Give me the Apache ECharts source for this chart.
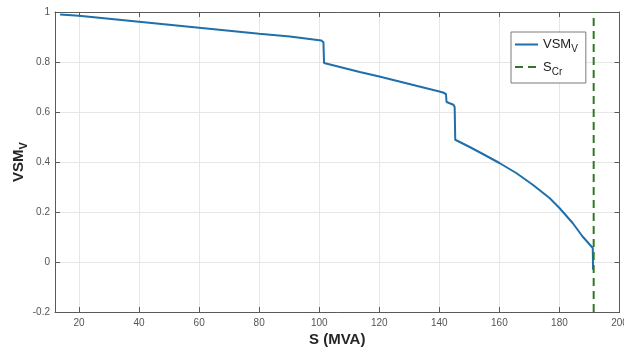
<!DOCTYPE html>
<html>
<head>
<meta charset="utf-8">
<script src="https://cdn.jsdelivr.net/npm/echarts@6/dist/echarts.min.js"></script>
<style>
  html, body { margin: 0; padding: 0; background: #fff; }
  #chart { width: 624px; height: 349px; }
</style>
</head>
<body>
<div id="chart"></div>
<script>
// Voltage stability margin versus apparent power
const sValues = [13.7, 20, 40, 60, 80, 90.2, 100.7, 101.4, 101.6, 113.5, 120, 130, 140, 141.2, 142.2, 142.4, 144.7, 145.1, 145.3,
                 150.1, 154.5, 160, 165.6, 171.1, 176.7, 180, 184.4, 187.7, 191.1, 191.2];
const vsmValues = [0.99, 0.985, 0.961, 0.937, 0.913, 0.902, 0.886, 0.879, 0.796, 0.76, 0.742, 0.712, 0.682, 0.678, 0.672, 0.640, 0.629, 0.620, 0.489,
                   0.460, 0.432, 0.396, 0.356, 0.309, 0.256, 0.216, 0.156, 0.102, 0.056, -0.031];
const sCritical = 191.4;
const xTickValues = [20, 40, 60, 80, 100, 120, 140, 160, 180, 200];
const yTickValues = [-0.2, 0, 0.2, 0.4, 0.6, 0.8, 1];

const FONT = 'Liberation Sans, Arial, sans-serif';
const AXIS_COLOR = '#5a5a5a';
const GRID_COLOR = '#e6e6e6';

const curve = sValues.map((s, i) => [s, vsmValues[i]]);
const critLine = [[sCritical, yTickValues[0]], [sCritical, yTickValues[yTickValues.length - 1]]];

const chart = echarts.init(document.getElementById('chart'), null, { renderer: 'canvas' });

const xBase = {
  type: 'value', min: 12, max: 200,
  axisLine: { show: true, onZero: false, lineStyle: { color: AXIS_COLOR, width: 1 } },
  axisTick: { show: true, inside: true, length: 5, customValues: xTickValues, lineStyle: { color: AXIS_COLOR } },
  splitLine: { show: false }
};
const yBase = {
  type: 'value', min: -0.2, max: 1, interval: 0.2,
  axisLine: { show: true, onZero: false, lineStyle: { color: AXIS_COLOR, width: 1 } },
  axisTick: { show: true, inside: true, length: 5, lineStyle: { color: AXIS_COLOR } },
  splitLine: { show: false }
};

chart.setOption({
  animation: false,
  backgroundColor: '#fff',
  textStyle: { fontFamily: FONT },
  grid: { left: 55, right: 4.5, top: 12, bottom: 37, containLabel: false, outerBoundsMode: 'none' },
  legend: {
    orient: 'vertical',
    left: 511, top: 32,
    width: 70,
    padding: [6, 8, 6, 3],
    itemGap: 6,
    itemWidth: 23, itemHeight: 14,
    backgroundColor: '#fff',
    borderColor: '#7a7a7a', borderWidth: 1,
    itemStyle: { color: 'transparent', borderWidth: 0, opacity: 0 },
    data: [{ name: 'VSM' }, { name: 'SCr' }],
    formatter: name => name === 'VSM' ? '{m|VSM}{s|V}' : '{m|S}{s|Cr}',
    textStyle: {
      fontFamily: FONT,
      rich: {
        m: { fontSize: 13, color: '#222', fontFamily: FONT },
        s: { fontSize: 10, color: '#222', fontFamily: FONT, padding: [10, 0, 0, 0] }
      }
    }
  },
  xAxis: [
    Object.assign({}, xBase, {
      position: 'bottom',
      name: 'S (MVA)', nameLocation: 'middle', nameGap: 20, nameMoveOverlap: false,
      nameTextStyle: { fontSize: 15, fontWeight: 'bold', color: '#262626', fontFamily: FONT },
      axisLabel: { show: true, customValues: xTickValues, margin: 6, fontSize: 10, color: '#555', fontFamily: FONT },
      splitLine: { show: true, customValues: xTickValues, lineStyle: { color: GRID_COLOR, width: 1 } }
    }),
    Object.assign({}, xBase, { position: 'top', axisLabel: { show: false } })
  ],
  yAxis: [
    Object.assign({}, yBase, {
      position: 'left',
      name: '{m|VSM}{s|V}', nameLocation: 'middle', nameGap: 26, nameRotate: 90, nameMoveOverlap: false,
      nameTextStyle: {
        color: '#262626', fontFamily: FONT,
        rich: {
          m: { fontSize: 15, fontWeight: 'bold', color: '#262626', fontFamily: FONT },
          s: { fontSize: 11, fontWeight: 'bold', color: '#262626', fontFamily: FONT, padding: [10, 0, 0, 0] }
        }
      },
      axisLabel: {
        show: true, margin: 5, fontSize: 10, color: '#555', fontFamily: FONT,
        formatter: v => String(Math.round(v * 10) / 10)
      },
      splitLine: { show: true, lineStyle: { color: GRID_COLOR, width: 1 } }
    }),
    Object.assign({}, yBase, { position: 'right', axisLabel: { show: false } })
  ],
  series: [
    {
      name: 'VSM', type: 'line', data: curve,
      xAxisIndex: 0, yAxisIndex: 0,
      showSymbol: false, symbol: 'none', smooth: false,
      lineStyle: { color: '#1f6fab', width: 2 },
      itemStyle: { color: '#1f6fab' },
      z: 3
    },
    {
      name: 'SCr', type: 'line', data: critLine,
      xAxisIndex: 0, yAxisIndex: 0,
      showSymbol: false, symbol: 'none',
      lineStyle: { color: '#2e7a24', width: 2, type: [8, 5] },
      itemStyle: { color: '#2e7a24' },
      z: 4
    }
  ]
});
</script>
</body>
</html>
